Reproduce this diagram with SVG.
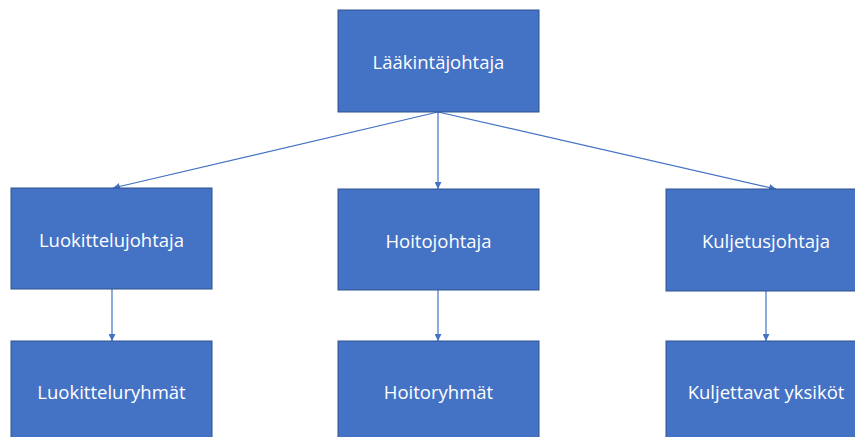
<svg xmlns="http://www.w3.org/2000/svg" width="855" height="437" viewBox="0 0 855 437">
<defs>
<style>
.box{fill:#4472C4;stroke:#2F528F;stroke-width:1}
.lbl{fill:#FFFFFF;font-family:"Open Sans","Liberation Sans",sans-serif;font-size:18.5px;text-anchor:middle;dominant-baseline:central}
.edge{stroke:#4472C4;stroke-width:1.2;fill:none;marker-end:url(#arr)}
</style>
<marker id="arr" viewBox="0 0 10 10" refX="10" refY="5" markerWidth="7" markerHeight="7" orient="auto" markerUnits="userSpaceOnUse">
<path d="M0,0 L10,5 L0,10 z" fill="#4472C4"/>
</marker>
</defs>
<rect width="855" height="437" fill="#FFFFFF"/>
<g id="connectors">
<line class="edge" x1="438" y1="112" x2="113" y2="188"/>
<line class="edge" x1="438" y1="112" x2="438" y2="189"/>
<line class="edge" x1="438" y1="112" x2="776" y2="189"/>
<line class="edge" x1="112" y1="289" x2="112" y2="341"/>
<line class="edge" x1="438" y1="290" x2="438" y2="341"/>
<line class="edge" x1="766" y1="291" x2="766" y2="341"/>
</g>
<g id="laakintajohtaja">
<rect class="box" x="338" y="10" width="201" height="102"/>
<text class="lbl" x="438.5" y="61">Lääkintäjohtaja</text>
</g>
<g id="luokittelujohtaja">
<rect class="box" x="11" y="188" width="201" height="101"/>
<text class="lbl" x="111.5" y="239">Luokittelujohtaja</text>
</g>
<g id="hoitojohtaja">
<rect class="box" x="338" y="189" width="201" height="101"/>
<text class="lbl" x="438.5" y="240">Hoitojohtaja</text>
</g>
<g id="kuljetusjohtaja">
<rect class="box" x="666" y="189" width="201" height="102"/>
<text class="lbl" x="766" y="240">Kuljetusjohtaja</text>
</g>
<g id="luokitteluryhmat">
<rect class="box" x="11" y="341" width="201" height="102"/>
<text class="lbl" x="111.5" y="391">Luokitteluryhmät</text>
</g>
<g id="hoitoryhmat">
<rect class="box" x="338" y="341" width="201" height="102"/>
<text class="lbl" x="438.5" y="391">Hoitoryhmät</text>
</g>
<g id="kuljettavat">
<rect class="box" x="666" y="341" width="201" height="102"/>
<text class="lbl" x="766" y="391">Kuljettavat yksiköt</text>
</g>
</svg>
